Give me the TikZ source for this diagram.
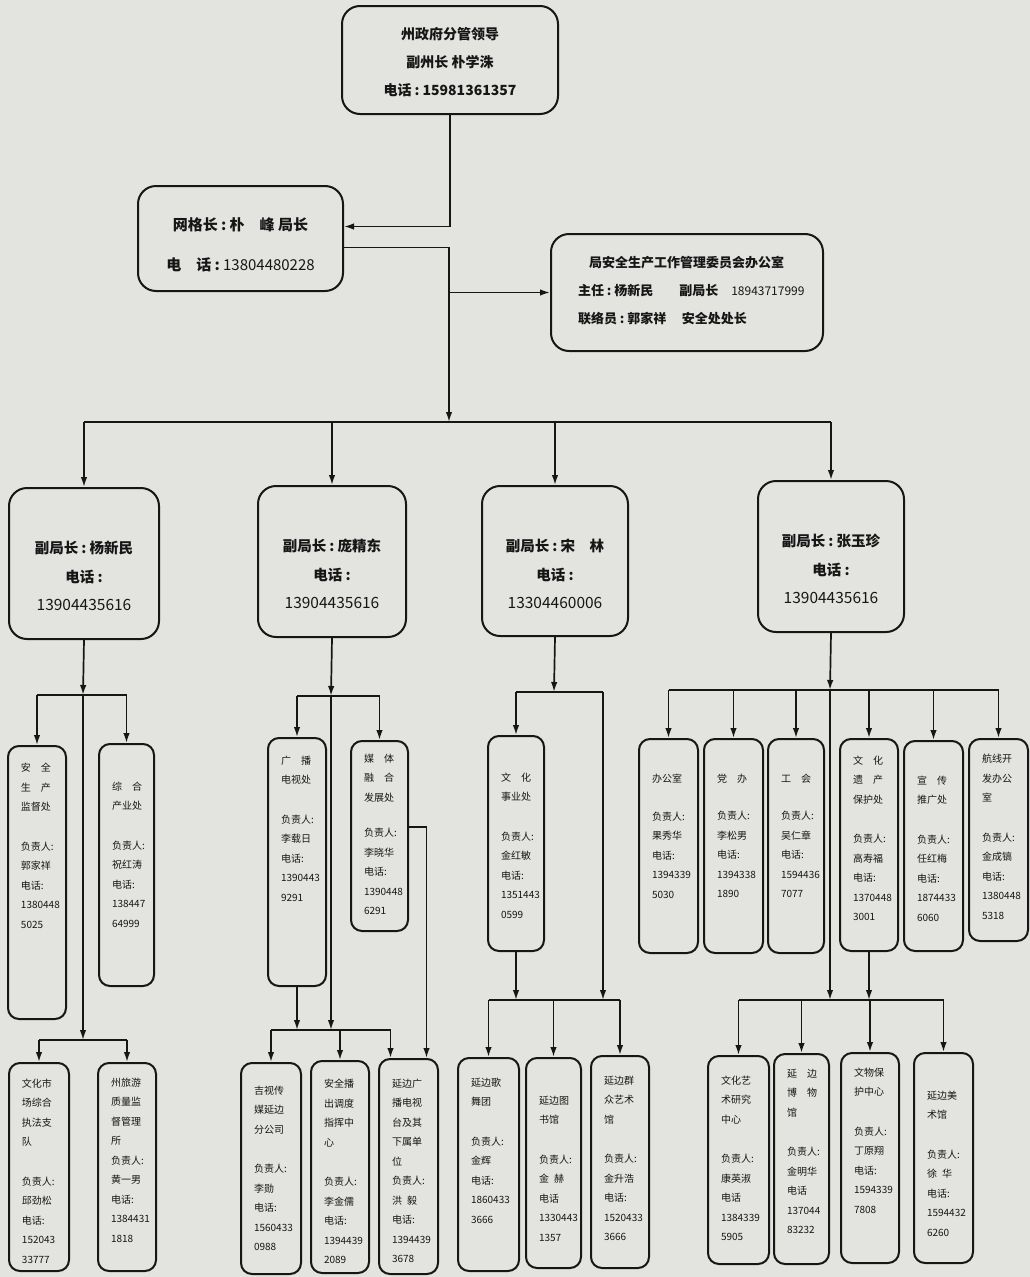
\documentclass[tikz,border=0pt]{standalone}
\usepackage{fontspec}
\setmainfont{Noto Sans CJK SC}
\usetikzlibrary{arrows.meta}
\definecolor{paper}{RGB}{227,227,224}
\definecolor{ink}{RGB}{22,22,22}
\newcommand{\cln}{\hspace{0.22em}:\hspace{0.22em}}
\newcommand{\lcell}[4]{\parbox[t][#2pt][t]{#1pt}{\vspace*{#3pt}\centering #4\par}}
\newcommand{\dcell}[4]{\parbox[t][#2pt][t]{#1pt}{\vspace*{#3pt}\raggedright\leftskip=13pt\relax #4\par}}

\begin{document}
\begin{tikzpicture}[x=1pt,y=-1pt,>={Latex[length=10pt,width=6.5pt]},line width=1.7pt,color=ink,
  lead/.style={draw,rounded corners=18pt,line width=2pt,inner sep=0pt,anchor=north west,
    font=\bfseries\fontsize{14}{28}\selectfont},
  dept/.style={draw,rounded corners=11pt,line width=2pt,inner sep=0pt,anchor=north west,
    font=\fontsize{10}{19.5}\selectfont}]
  \fill[paper] (0,0) rectangle (1030,1277);
  \useasboundingbox (0,0) rectangle (1030,1277);

  \node[lead] (top) at (341,5) {\lcell{216}{108}{21}{州政府分管领导\\副州长\ 朴学洙\\电话\cln 15981361357}};
  \node[lead,font=\bfseries\fontsize{15}{40}\selectfont] (grid) at (137,185)
    {\lcell{205}{105}{32}{网格长\cln 朴\quad 峰\ 局长\\电\quad 话\cln{\mdseries 13804480228}}};
  \node[lead,font=\bfseries\fontsize{13}{28}\selectfont] (office) at (550,233)
    {\parbox[t][117pt][t]{272pt}{\vspace*{22pt}\raggedright\leftskip=27pt\relax
     \hspace*{11pt}局安全生产工作管理委员会办公室\\
     主任\cln 杨新民\hspace{2em}副局长\hspace{1em}{\mdseries\fontsize{12}{28}\selectfont 18943717999}\\
     联络员\cln 郭家祥\hspace{1.2em}安全处处长\par}};

  \tikzset{vp/.style={lead,font=\bfseries\fontsize{14.5}{28.5}\selectfont}}
  \node[vp] (vp1) at (8,487) {\lcell{150}{151}{53}{副局长\cln 杨新民\\电话\cln\\{\mdseries\fontsize{15.5}{28.5}\selectfont 13904435616}}};
  \node[vp] (vp2) at (257,485) {\lcell{148}{151}{53}{副局长\cln 庞精东\\电话\cln\\{\mdseries\fontsize{15.5}{28.5}\selectfont 13904435616}}};
  \node[vp] (vp3) at (481,485) {\lcell{146}{150}{53}{副局长\cln 宋\quad 林\\电话\cln\\{\mdseries\fontsize{15.5}{28.5}\selectfont 13304460006}}};
  \node[vp] (vp4) at (757,480) {\lcell{146}{151}{53}{副局长\cln 张玉珍\\电话\cln\\{\mdseries\fontsize{15.5}{28.5}\selectfont 13904435616}}};

  \node[dept] (safety) at (7,745) {\dcell{58}{273}{17}{安\quad 全\\生\quad 产\\监督处\\[20pt]负责人:\\郭家祥\\电话:\\1380448\\5025}};
  \node[dept] (industry) at (98,743) {\dcell{55}{242}{38}{综\quad 合\\产业处\\[20pt]负责人:\\祝红涛\\电话:\\138447\\64999}};
  \node[dept] (lawteam) at (8,1062) {\dcell{60}{208}{16}{文化市\\场综合\\执法支\\队\\[20pt]负责人:\\邱劲松\\电话:\\152043\\33777}};
  \node[dept] (tourism) at (97,1062) {\dcell{58}{208}{15}{州旅游\\质量监\\督管理\\所\\负责人:\\黄一男\\电话:\\1384431\\1818}};

  \node[dept] (radio) at (267,737) {\dcell{58}{248}{18}{广\quad 播\\电视处\\[20pt]负责人:\\李载日\\电话:\\1390443\\9291}};
  \node[dept] (media) at (350,740) {\dcell{57}{190}{13}{媒\quad 体\\融\quad 合\\发展处\\[16pt]负责人:\\李晓华\\电话:\\1390448\\6291}};
  \node[dept] (jishi) at (240,1062) {\dcell{60}{211}{23}{吉视传\\媒延边\\分公司\\[20pt]负责人:\\李勋\\电话:\\1560433\\0988}};
  \node[dept] (dispatch) at (310,1060) {\dcell{58}{212}{18}{安全播\\出调度\\指挥中\\心\\[20pt]负责人:\\李金儒\\电话:\\1394439\\2089}};
  \node[dept] (ybtv) at (378,1058) {\dcell{59}{215}{20}{延边广\\播电视\\台及其\\下属单\\位\\负责人:\\洪\enspace 毅\\电话:\\1394439\\3678}};

  \node[dept] (culture) at (487,735) {\dcell{56}{215}{37}{文\quad 化\\事业处\\[20pt]负责人:\\金红敏\\电话:\\1351443\\0599}};
  \node[dept] (troupe) at (457,1057) {\dcell{61}{213}{20}{延边歌\\舞团\\[20pt]负责人:\\金辉\\电话:\\1860433\\3666}};
  \node[dept] (library) at (525,1057) {\dcell{55}{210}{38}{延边图\\书馆\\[20pt]负责人:\\金\enspace 赫\\电话\\1330443\\1357}};
  \node[dept] (artcenter) at (590,1055) {\dcell{58}{212}{20}{延边群\\众艺术\\馆\\[20pt]负责人:\\金升浩\\电话:\\1520433\\3666}};

  \node[dept] (admin) at (638,738) {\dcell{59}{214}{35}{办公室\\[18pt]负责人:\\果秀华\\电话:\\1394339\\5030}};
  \node[dept] (party) at (703,738) {\dcell{59}{214}{35}{党\quad 办\\[18pt]负责人:\\李松男\\电话:\\1394338\\1890}};
  \node[dept] (union) at (767,738) {\dcell{56}{214}{35}{工\quad 会\\[18pt]负责人:\\吴仁章\\电话:\\1594436\\7077}};
  \node[dept] (heritage) at (839,738) {\dcell{58}{212}{17}{文\quad 化\\遗\quad 产\\保护处\\[20pt]负责人:\\高寿福\\电话:\\1370448\\3001}};
  \node[dept] (publicity) at (903,740) {\dcell{59}{210}{35}{宣\quad 传\\推广处\\[20pt]负责人:\\任红梅\\电话:\\1874433\\6060}};
  \node[dept] (airline) at (968,738) {\dcell{59}{202}{15}{航线开\\发办公\\室\\[20pt]负责人:\\金成镐\\电话:\\1380448\\5318}};
  \node[dept] (research) at (707,1055) {\dcell{61}{208}{20}{文化艺\\术研究\\中心\\[20pt]负责人:\\康英淑\\电话\\1384339\\5905}};
  \node[dept] (museum) at (773,1053) {\dcell{55}{210}{15}{延\quad 边\\博\quad 物\\馆\\[20pt]负责人:\\金明华\\电话\\137044\\83232}};
  \node[dept] (relics) at (840,1052) {\dcell{58}{210}{15}{文物保\\护中心\\[20pt]负责人:\\丁原翔\\电话:\\1594339\\7808}};
  \node[dept] (gallery) at (913,1052) {\dcell{59}{210}{38}{延边美\\术馆\\[20pt]负责人:\\徐\enspace 华\\电话:\\1594432\\6260}};

  \coordinate (spine) at (449,422);
  \draw[->] (top.south) |- ([yshift=12pt]grid.east);
  \draw[->] ([yshift=-9pt]grid.east) -| (spine);
  \draw[->] (spine |- office.west) -- (office.west);
  \draw (vp1.north |- spine) -- (vp4.north |- spine);
  \foreach \v in {vp1,vp2,vp3,vp4}
    \draw[->] (\v.north |- spine) -- (\v.north);

  \coordinate (g1) at (83,695);
  \coordinate (h1) at (83,1040);
  \draw[->] (vp1.south) -- (g1);
  \draw (safety.north |- g1) -- (industry.north |- g1);
  \foreach \s in {safety,industry}
    \draw[->] (\s.north |- g1) -- (\s.north);
  \draw[->] (g1) -- (h1);
  \draw (lawteam.north |- h1) -- (tourism.north |- h1);
  \foreach \s in {lawteam,tourism}
    \draw[->] (\s.north |- h1) -- (\s.north);

  \coordinate (g2) at (331,696);
  \coordinate (h2) at (331,1030);
  \coordinate (tvin) at ([xshift=-18pt]ybtv.north);
  \draw[->] (vp2.south) -- (g2);
  \draw (radio.north |- g2) -- (media.north |- g2);
  \foreach \s in {radio,media}
    \draw[->] (\s.north |- g2) -- (\s.north);
  \draw[->] (g2) -- (h2);
  \draw[->] (radio.south) -- (radio.south |- h2);
  \draw (jishi.north |- h2) -- (tvin |- h2);
  \foreach \s in {jishi.north,dispatch.north,tvin}
    \draw[->] (\s |- h2) -- (\s);
  \draw[->] ([yshift=9pt]media.east) -| ([xshift=18pt]ybtv.north);

  \coordinate (g3) at (554,692);
  \coordinate (h3) at (603,1000);
  \draw[->] (vp3.south) -- (g3);
  \draw (culture.north |- g3) -- (h3 |- g3);
  \draw[->] (culture.north |- g3) -- (culture.north);
  \draw[->] (h3 |- g3) -- (h3);
  \draw[->] (culture.south) -- (culture.south |- h3);
  \draw (troupe.north |- h3) -- (artcenter.north |- h3);
  \foreach \s in {troupe,library,artcenter}
    \draw[->] (\s.north |- h3) -- (\s.north);

  \coordinate (g4) at (830,690);
  \coordinate (h4) at (830,1000);
  \draw[->] (vp4.south) -- (g4);
  \draw (admin.north |- g4) -- (airline.north |- g4);
  \foreach \s in {admin,party,union,heritage,publicity,airline}
    \draw[->] (\s.north |- g4) -- (\s.north);
  \draw[->] (g4) -- (h4);
  \draw[->] (heritage.south) -- (heritage.south |- h4);
  \draw (research.north |- h4) -- (gallery.north |- h4);
  \foreach \s in {research,museum,relics,gallery}
    \draw[->] (\s.north |- h4) -- (\s.north);
\end{tikzpicture}
\end{document}
